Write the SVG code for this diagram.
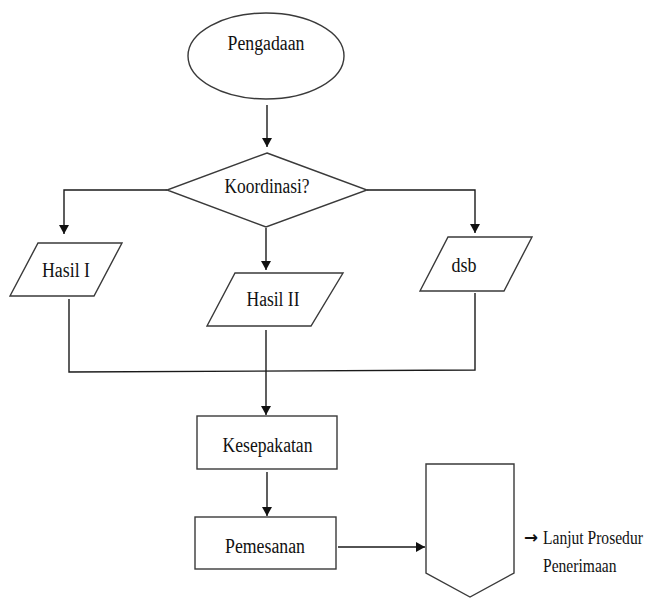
<svg xmlns="http://www.w3.org/2000/svg" width="648" height="598" viewBox="0 0 648 598">
  <style>
    .shape { fill: #ffffff; stroke: #3a3a3a; stroke-width: 1.4; }
    .conn { fill: none; stroke: #1a1a1a; stroke-width: 1.4; }
    text { font-family: 'Liberation Serif', Tinos, 'Times New Roman', Times, serif; fill: #111111; }
    .lbl { font-size: 20px; }
    .note { font-size: 19px; }
    .sym { font-family: 'DejaVu Sans', sans-serif; font-size: 17px; font-weight: bold; }
  </style>
  <defs>
    <marker id="arrow" viewBox="0 0 9 10" refX="9" refY="5" markerWidth="9" markerHeight="10" markerUnits="userSpaceOnUse" orient="auto">
      <path d="M0,0 L9,5 L0,10 Z" fill="#111111"/>
    </marker>
  </defs>
  <rect width="648" height="598" fill="#ffffff"/>

  <!-- connectors -->
  <g id="connectors">
    <path class="conn" d="M267,105 L267,147" marker-end="url(#arrow)"/>
    <path class="conn" d="M167,190 L64,190 L64,234" marker-end="url(#arrow)"/>
    <path class="conn" d="M266,228 L266,270" marker-end="url(#arrow)"/>
    <path class="conn" d="M367,190 L475,190 L475,233" marker-end="url(#arrow)"/>
    <path class="conn" d="M69,299 L69,372 L475,370 L475,293"/>
    <path class="conn" d="M266,330 L266,415" marker-end="url(#arrow)"/>
    <path class="conn" d="M267,472 L267,516" marker-end="url(#arrow)"/>
    <path class="conn" d="M338,547 L425,547" marker-end="url(#arrow)"/>
  </g>

  <!-- start terminator -->
  <g id="pengadaan">
    <ellipse class="shape" cx="266" cy="56" rx="78" ry="43"/>
    <text class="lbl" x="266" y="50" text-anchor="middle" textLength="77" lengthAdjust="spacingAndGlyphs">Pengadaan</text>
  </g>

  <!-- decision -->
  <g id="koordinasi">
    <polygon class="shape" points="267,153 367,190 266,227 167,190"/>
    <text class="lbl" x="267" y="193" text-anchor="middle" textLength="85" lengthAdjust="spacingAndGlyphs">Koordinasi?</text>
  </g>

  <!-- outcomes -->
  <g id="hasil-1">
    <polygon class="shape" points="38,243 122,243 94,296 10,296"/>
    <text class="lbl" x="66" y="277" text-anchor="middle" textLength="48" lengthAdjust="spacingAndGlyphs">Hasil I</text>
  </g>
  <g id="hasil-2">
    <polygon class="shape" points="235,273 343,273 311,326 207,326"/>
    <text class="lbl" x="273" y="306" text-anchor="middle" textLength="53" lengthAdjust="spacingAndGlyphs">Hasil II</text>
  </g>
  <g id="dsb">
    <polygon class="shape" points="448,237 532,237 504,291 420,291"/>
    <text class="lbl" x="464" y="272" text-anchor="middle" textLength="25" lengthAdjust="spacingAndGlyphs">dsb</text>
  </g>

  <!-- process steps -->
  <g id="kesepakatan">
    <rect class="shape" x="197" y="416" width="140" height="53"/>
    <text class="lbl" x="267.5" y="452" text-anchor="middle" textLength="90" lengthAdjust="spacingAndGlyphs">Kesepakatan</text>
  </g>
  <g id="pemesanan">
    <rect class="shape" x="195" y="517" width="141" height="52"/>
    <text class="lbl" x="265" y="553" text-anchor="middle" textLength="80" lengthAdjust="spacingAndGlyphs">Pemesanan</text>
  </g>

  <!-- off-page connector -->
  <g id="off-page">
    <polygon class="shape" points="426,464 514,464 514,573 470,597 426,573"/>
  </g>

  <!-- continuation note, narrowed horizontally to fit the right margin -->
  <g id="note">
    <text class="sym" x="524" y="543" textLength="14" lengthAdjust="spacingAndGlyphs">→</text>
    <text class="note" transform="translate(543,544) scale(0.82,1)" x="0" y="0">Lanjut Prosedur</text>
    <text class="note" transform="translate(543,572) scale(0.82,1)" x="0" y="0">Penerimaan</text>
  </g>
</svg>
